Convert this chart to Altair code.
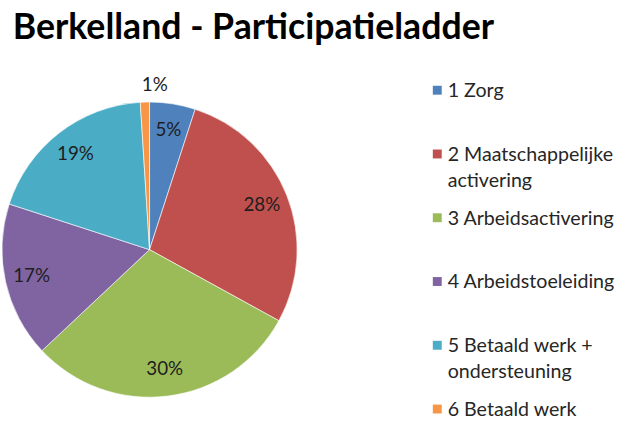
import altair as alt
import pandas as pd

title_text = "Berkelland - Participatieladder"
categories = ["1 Zorg", "2 Maatschappelijke activering", "3 Arbeidsactivering",
              "4 Arbeidstoeleiding", "5 Betaald werk + ondersteuning", "6 Betaald werk"]
legend_labels = ["1 Zorg", "2 Maatschappelijke\nactivering", "3 Arbeidsactivering",
                 "4 Arbeidstoeleiding", "5 Betaald werk +\nondersteuning", "6 Betaald werk"]
values = [5, 28, 30, 17, 19, 1]
pct_labels = ["5%", "28%", "30%", "17%", "19%", "1%"]
colors = ["#4F81BD", "#C0504D", "#9BBB59", "#8064A2", "#4BACC6", "#F79646"]

df = pd.DataFrame({
    "cat": categories,
    "legend": legend_labels,
    "value": values,
    "label": pct_labels,
    "order": list(range(len(categories))),
})

color_scale = alt.Scale(domain=categories, range=colors)
FONT = "Lato"

base = alt.Chart(df).encode(
    theta=alt.Theta("value:Q", stack=True),
    order=alt.Order("order:Q"),
)

pie = base.mark_arc(outerRadius=149, stroke="#ffffff", strokeWidth=0.6).encode(
    color=alt.Color("cat:N", scale=color_scale, legend=None)
)

# small slices get their label outside the pie, the rest inside
labels = base.transform_calculate(
    lr="datum.value < 3 ? 166 : 122"
).mark_text(font=FONT, fontSize=19, color="#1e1e1e").encode(
    radius=alt.Radius("lr:Q", scale=None),
    text="label:N",
)

pie_panel = alt.layer(pie, labels).properties(width=290, height=338)

yscale = alt.Scale(type="point", domain=categories, padding=0.125)
leg_base = alt.Chart(df).encode(
    y=alt.Y("cat:N", scale=yscale, axis=None, sort=categories)
)
leg_sq = leg_base.mark_square(size=81, opacity=1).encode(
    x=alt.value(12.5),
    color=alt.Color("cat:N", scale=color_scale, legend=None),
)
leg_txt = leg_base.mark_text(
    align="left", baseline="alphabetic", dy=7, font=FONT, fontSize=19.8,
    lineBreak="\n", lineHeight=26, color="#262626"
).encode(x=alt.value(23), text="legend:N")

legend_panel = alt.layer(leg_sq, leg_txt).properties(width=197, height=338)

chart = alt.hconcat(pie_panel, legend_panel, spacing=133, bounds="flush").properties(
    title=alt.TitleParams(title_text, anchor="start", font=FONT, fontSize=36,
                          fontWeight="bold", color="#000000", dx=12, offset=30),
    padding={"left": 0, "top": 8, "right": 0, "bottom": 0},
).configure_view(stroke=None)

chart.save("out.html", embed_options={"renderer": "svg", "actions": False})
